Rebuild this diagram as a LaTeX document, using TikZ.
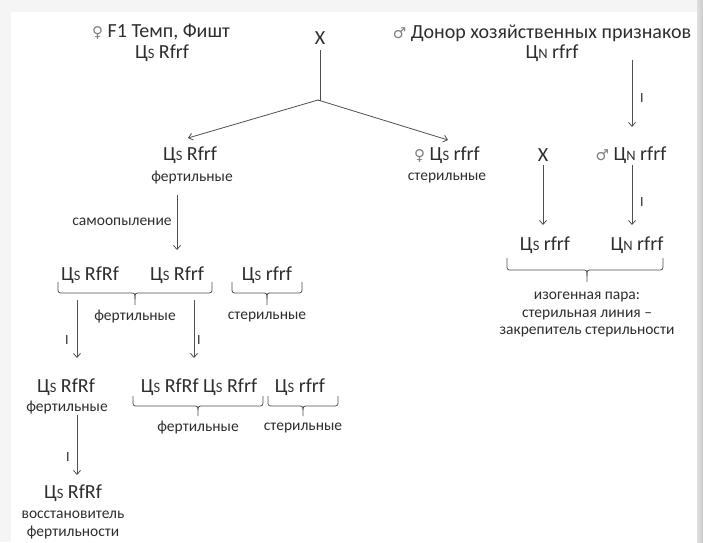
\documentclass[tikz,border=0pt]{standalone}
\usepackage{fontspec}
\setmainfont{Carlito}
\newfontfamily\symf{DejaVu Sans}
\usetikzlibrary{arrows.meta,calc}
\definecolor{txt}{HTML}{2E2E2E}
\definecolor{ln}{HTML}{505050}
\newcommand\ts[1]{\scalebox{0.72}{#1}}
\newcommand\fem{{\symf\fontsize{15}{16}\selectfont\color{gray}♀}}
\newcommand\mal{{\symf\fontsize{15}{16}\selectfont\color{gray}♂}}
\begin{document}
\begin{tikzpicture}[x=1pt,y=-1pt,
  big/.style={text=txt,inner sep=1pt,font=\fontsize{20}{22}\selectfont},
  small/.style={text=txt,inner sep=1pt,font=\fontsize{15.5}{17}\selectfont},
  lab/.style={text=txt,inner sep=0pt,font=\fontsize{14}{16}\selectfont},
  arr/.style={draw=ln,line width=0.8pt,-{Straight Barb[length=4pt,width=7pt]}},
  brace/.style={draw=ln,line width=0.8pt,rounded corners=2.5pt}]
\useasboundingbox (0,0) rectangle (703,542);
\fill[gray!8] (0,0) rectangle (703,542);
\fill[white] (11,12) rectangle (697,542);
\shade[left color=gray!25,right color=gray!40] (697,0) rectangle (703,542);
% top left
\node[big] (femp) at (161,32) {\fem\ F1 Темп, Фишт};
\node[big] (femg) at (162,53) {Ц\ts{S} Rfrf};
\node[big] (x1) at (320,38) {X};
\coordinate (j) at (318,100);
% top right
\node[big] (don) at (542,33) {\mal\ Донор хозяйственных признаков};
\node[big] (dong) at (552,53) {Ц\ts{N} rfrf};
% F1
\node[big] (f1a) at (190,155) {Ц\ts{S} Rfrf};
\node[small] (f1al) at (192,178) {фертильные};
\node[big] (f1b) at (447,155) {\fem\ Ц\ts{S} rfrf};
\node[small] (f1bl) at (447,178) {стерильные};
\node[small] (self) at (122,222) {самоопыление};
% right branch
\node[big] (x2) at (543,155) {X};
\node[big] (malg) at (631,155) {\mal\ Ц\ts{N} rfrf};
\node[big] (iso1) at (545,245) {Ц\ts{S} rfrf};
\node[big] (iso2) at (637,245) {Ц\ts{N} rfrf};
\node[small] (isoa) at (587,297) {изогенная пара:};
\node[small] (isob) at (587,315) {стерильная линия –};
\node[small] (isoc) at (587,332) {закрепитель стерильности};
% F2
\node[big] (f2a) at (90,275) {Ц\ts{S} RfRf};
\node[big] (f2b) at (177,275) {Ц\ts{S} Rfrf};
\node[big] (f2c) at (267,275) {Ц\ts{S} rfrf};
\node[small] (f2l1) at (135,317) {фертильные};
\node[small] (f2l2) at (267,317) {стерильные};
% F3
\node[big] (f3a) at (66,387) {Ц\ts{S} RfRf};
\node[small] (f3al) at (67,408) {фертильные};
\node[big] (f3b) at (199,387) {Ц\ts{S} RfRf Ц\ts{S} Rfrf};
\node[big] (f3c) at (300,387) {Ц\ts{S} rfrf};
\node[small] (f3l1) at (198,428) {фертильные};
\node[small] (f3l2) at (303,428) {стерильные};
% F4
\node[big] (f4) at (73,493) {Ц\ts{S} RfRf};
\node[small] (f4a) at (73,515) {восстановитель};
\node[small] (f4b) at (73,533) {фертильности};
% I labels
\node[lab] (i1) at (642,98) {I};
\node[lab] (i2) at (642,202) {I};
\node[lab] (i3) at (67,340) {I};
\node[lab] (i4) at (199,340) {I};
\node[lab] (i5) at (68,457) {I};
% connectors
\coordinate (x1b) at (320,50);
\draw[draw=ln,line width=0.8pt] (x1b) -- (320,100) -- (j);
\coordinate (f1at) at (188,138);
\coordinate (f1bt) at (448,140);
\draw[arr] (j) -- (f1at);
\draw[arr] (j) -- (f1bt);
\coordinate (a1s) at (632,60); \coordinate (a1e) at (632,127);
\draw[arr] (a1s) -- (a1e);
\coordinate (a2s) at (177,195); \coordinate (a2e) at (177,250);
\draw[arr] (a2s) -- (a2e);
\coordinate (a3s) at (543,165); \coordinate (a3e) at (543,225);
\draw[arr] (a3s) -- (a3e);
\coordinate (a4s) at (632,165); \coordinate (a4e) at (632,225);
\draw[arr] (a4s) -- (a4e);
\coordinate (a5s) at (77,300); \coordinate (a5e) at (77,358);
\draw[arr] (a5s) -- (a5e);
\coordinate (a6s) at (194,300); \coordinate (a6e) at (194,358);
\draw[arr] (a6s) -- (a6e);
\coordinate (a7s) at (77,415); \coordinate (a7e) at (77,475);
\draw[arr] (a7s) -- (a7e);
% braces
\draw[brace] (507,258) -- (507,270) -- (587,270) -- (587,282);
\draw[brace] (587,276) -- (587,270) -- (663,270) -- (663,258);
\draw[brace] (58,282) -- (58,293) -- (135,293) -- (135,305);
\draw[brace] (135,299) -- (135,293) -- (212,293) -- (212,282);
\draw[brace] (232,282) -- (232,293) -- (267,293) -- (267,305);
\draw[brace] (267,299) -- (267,293) -- (302,293) -- (302,282);
\draw[brace] (133,396) -- (133,406) -- (198,406) -- (198,416);
\draw[brace] (198,410) -- (198,406) -- (263,406) -- (263,396);
\draw[brace] (268,396) -- (268,406) -- (303,406) -- (303,416);
\draw[brace] (303,410) -- (303,406) -- (338,406) -- (338,396);
\end{tikzpicture}
\end{document}
